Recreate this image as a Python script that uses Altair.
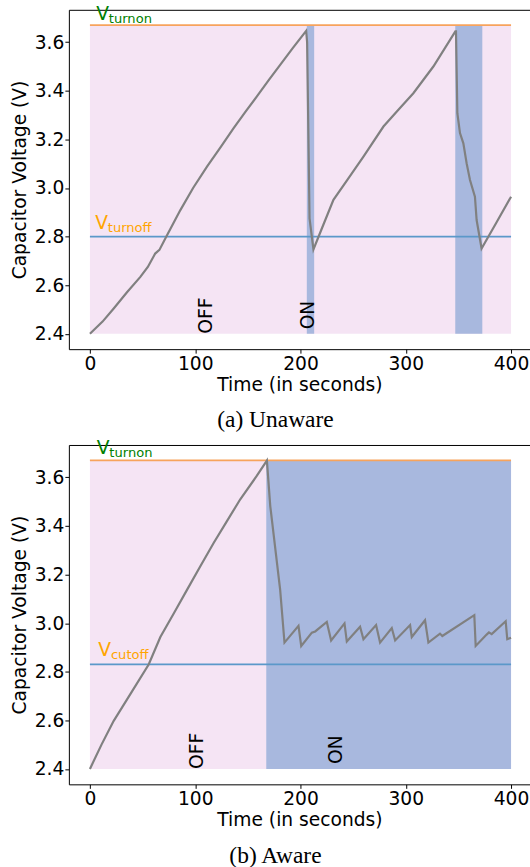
import altair as alt
import pandas as pd

# ---------------- data ----------------
# Panel (a) Unaware: capacitor voltage trace
a_time = [0, 12, 22.6, 35, 47.9, 55, 62, 66, 72.6, 85.9, 98, 111.2, 124, 136.5, 148,
          158.6, 170, 180.7, 193, 205.4, 206.3, 208.6, 212.3, 220, 231.3, 245, 259.8,
          278.8, 293, 307.2, 326.2, 347.1, 347.7, 349.0, 351.5, 354.7, 357.8, 361,
          365.7, 367.3, 372, 386, 400]
a_volt = [2.40, 2.45, 2.504, 2.57, 2.634, 2.675, 2.73, 2.745, 2.80, 2.909, 3.0, 3.088,
          3.167, 3.246, 3.315, 3.377, 3.445, 3.507, 3.578, 3.647, 3.60, 2.875, 2.747,
          2.83, 2.951, 3.036, 3.129, 3.253, 3.322, 3.39, 3.5, 3.645, 3.645, 3.308,
          3.226, 3.184, 3.102, 3.033, 2.964, 2.868, 2.751, 2.857, 2.964]
a_on_start = [206, 347]
a_on_end = [213, 372.7]

# Panel (b) Aware
b_time = [0, 11, 22.6, 40, 55.8, 66.9, 80, 92.2, 105, 117.5, 130, 142.8, 158.6, 168.1,
          171.3, 180.7, 184.8, 198.1, 200.7, 210.8, 214, 225, 229.1, 241.8, 244, 256.6,
          259.8, 271.8, 275.6, 286.7, 289.9, 304.1, 305.7, 318.3, 321.5, 332.5, 334.7,
          365.1, 366.4, 376.8, 379, 381.6, 394.9, 396.4, 400]
b_volt = [2.40, 2.5, 2.598, 2.719, 2.83, 2.943, 3.043, 3.137, 3.235, 3.33, 3.419, 3.51,
          3.607, 3.669, 3.482, 3.137, 2.92, 2.989, 2.906, 2.961, 2.966, 3.005, 2.929,
          2.999, 2.925, 2.985, 2.934, 2.992, 2.92, 2.98, 2.929, 2.992, 2.943, 3.012,
          2.92, 2.957, 2.947, 3.033, 2.906, 2.953, 2.962, 2.955, 3.008, 2.934, 2.94]
b_on_start = [167.5]
b_on_end = [400]

off_start, off_end = 0, 400
v_low = 2.4
v_turnon = 3.67
a_v_turnoff = 2.8
b_v_cutoff = 2.83

x_ticks = [0, 100, 200, 300, 400]
y_ticks = [2.4, 2.6, 2.8, 3.0, 3.2, 3.4, 3.6]

a_labels = {"x": [6, 5], "y": [3.69, 2.831], "main": ["V", "V"],
            "sub": ["turnon", "turnoff"], "color": ["green", "orange"]}
b_labels = {"x": [6.5, 8], "y": [3.695, 2.863], "main": ["V", "V"],
            "sub": ["turnon", "cutoff"], "color": ["green", "orange"]}
a_state = {"x": [110.5, 207], "y": [2.4, 2.418], "txt": ["OFF", "ON"]}
b_state = {"x": [101.5, 233.4], "y": [2.4, 2.42], "txt": ["OFF", "ON"]}

# ---------------- styles ----------------
FS = 18.7
PINK = "#f5e4f4"
BLUE_FILL = "#a8b8de"
LINE_GREY = "#808080"
ORANGE_LINE = "#f7a35c"
BLUE_LINE = "#5b98c9"

xs = alt.Scale(domain=[-20, 418], nice=False, zero=False)
ys = alt.Scale(domain=[2.3365, 3.7335], nice=False, zero=False)
W, H = 462, 340


def panel(t, v, on_s, on_e, thr_low, labels, states, caption):
    line_df = pd.DataFrame({"t": t, "v": v})
    off_df = pd.DataFrame({"x0": [off_start], "x1": [off_end], "y0": [v_low], "y1": [v_turnon]})
    on_df = pd.DataFrame({"x0": on_s, "x1": on_e, "y0": [v_low] * len(on_s), "y1": [v_turnon] * len(on_s)})
    thr_df = pd.DataFrame({"x0": [off_start, off_start], "x1": [off_end, off_end],
                           "y": [v_turnon, thr_low], "c": [ORANGE_LINE, BLUE_LINE]})
    lab_df = pd.DataFrame(labels)
    st_df = pd.DataFrame(states)

    off = alt.Chart(off_df).mark_rect(color=PINK).encode(
        x=alt.X("x0:Q", scale=xs, axis=alt.Axis(values=x_ticks, title="Time (in seconds)",
                                                   format="d", titlePadding=3)),
        x2="x1:Q",
        y=alt.Y("y0:Q", scale=ys, axis=alt.Axis(values=y_ticks, format=".1f",
                                                   title="Capacitor Voltage (V)", titlePadding=5)),
        y2="y1:Q",
    )
    on = alt.Chart(on_df).mark_rect(color=BLUE_FILL).encode(
        x=alt.X("x0:Q", scale=xs, axis=alt.Axis(orient="top", labels=False, ticks=False,
                                                   title=None, domain=True)),
        x2="x1:Q",
        y=alt.Y("y0:Q", scale=ys, axis=None),
        y2="y1:Q",
    )
    thr = alt.Chart(thr_df).mark_rule(strokeWidth=1.8).encode(
        x=alt.X("x0:Q", scale=xs, axis=None),
        x2="x1:Q",
        y=alt.Y("y:Q", scale=ys, axis=None),
        color=alt.Color("c:N", scale=None),
    )
    line = alt.Chart(line_df).mark_line(color=LINE_GREY, strokeWidth=2.2).encode(
        x=alt.X("t:Q", scale=xs, axis=None),
        y=alt.Y("v:Q", scale=ys, axis=None),
        order="t:Q",
    )
    main = alt.Chart(lab_df).mark_text(align="left", baseline="alphabetic", fontSize=FS,
                                         font="DejaVu Sans").encode(
        x=alt.X("x:Q", scale=xs, axis=None),
        y=alt.Y("y:Q", scale=ys, axis=None),
        text="main:N",
        color=alt.Color("color:N", scale=None),
    )
    sub = alt.Chart(lab_df).mark_text(align="left", baseline="alphabetic", fontSize=13.1,
                                        font="DejaVu Sans", dx=12.6, dy=2.6).encode(
        x=alt.X("x:Q", scale=xs, axis=None),
        y=alt.Y("y:Q", scale=ys, axis=None),
        text="sub:N",
        color=alt.Color("color:N", scale=None),
    )
    st = alt.Chart(st_df).mark_text(align="left", baseline="middle", angle=270, fontSize=FS,
                                      font="DejaVu Sans", color="black").encode(
        x=alt.X("x:Q", scale=xs, axis=None),
        y=alt.Y("y:Q", scale=ys, axis=None),
        text="txt:N",
    )
    return alt.layer(off, on, thr, line, main, sub, st).resolve_axis(
        x="independent", y="independent").properties(
        width=W, height=H,
        title=alt.TitleParams(text=caption, orient="bottom", font="Liberation Serif",
                              fontSize=23.5, fontWeight="normal", color="black",
                              offset=14, dx=-24, anchor="middle"),
    )


pa = panel(a_time, a_volt, a_on_start, a_on_end, a_v_turnoff, a_labels, a_state, "(a) Unaware")
pb = panel(b_time, b_volt, b_on_start, b_on_end, b_v_cutoff, b_labels, b_state, "(b) Aware")

chart = alt.vconcat(pa, pb, spacing=96, bounds="flush").properties(
    padding={"left": 10, "top": 4, "right": 0, "bottom": 0},
    background="white",
).configure_view(stroke=None).configure_axis(
    grid=False,
    labelFont="DejaVu Sans", labelFontSize=FS, labelColor="black",
    titleFont="DejaVu Sans", titleFontSize=FS, titleFontWeight="normal", titleColor="black",
    tickColor="black", tickSize=4, tickWidth=1, domainColor="black", domainWidth=1,
    labelPadding=1,
)

chart.save("out.html", embed_options={"renderer": "svg", "actions": False})
